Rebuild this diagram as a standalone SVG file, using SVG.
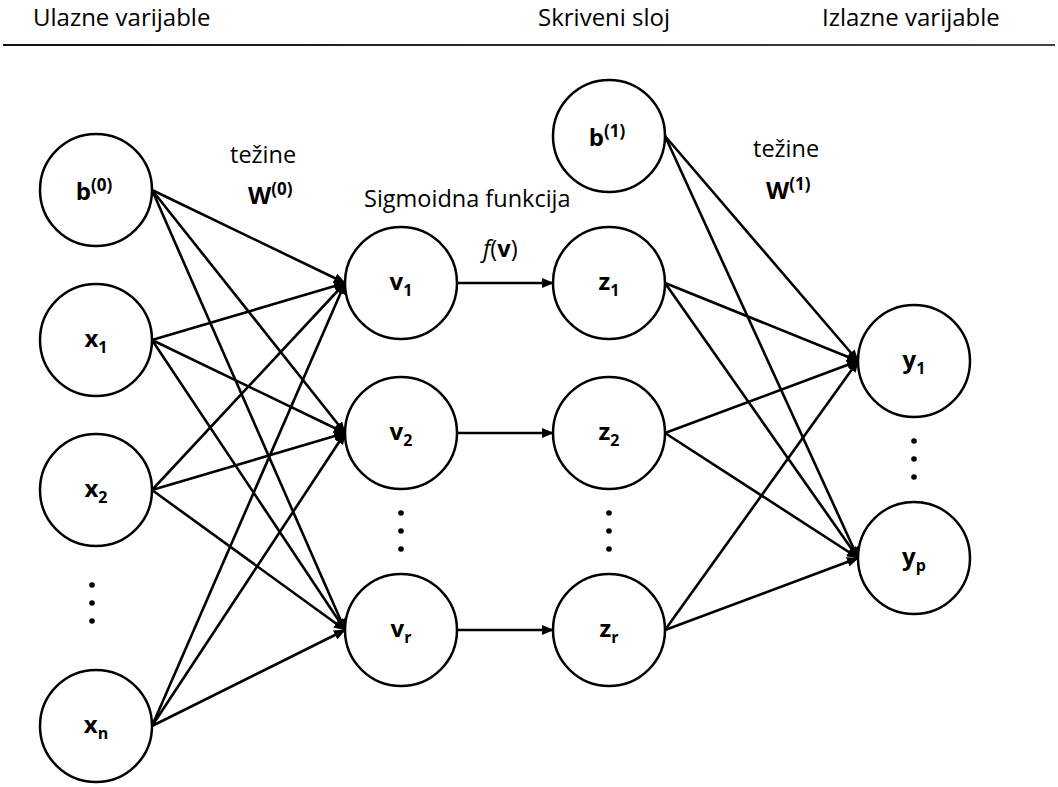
<svg xmlns="http://www.w3.org/2000/svg" width="1058" height="787" viewBox="0 0 1058 787">
<style>
.hdr{font-family:"Open Sans","Liberation Sans",sans-serif;font-size:24px;fill:#000}
.lbl{font-family:"Open Sans","Liberation Sans",sans-serif;font-size:23.5px;fill:#000}
.nl{font-family:"Open Sans","Liberation Sans",sans-serif;font-size:24px;font-weight:bold;fill:#000}
.sub{font-size:16px}
.sup{font-size:17px}
.node circle{fill:#fff;stroke:#000;stroke-width:2.5}
.edges line{stroke:#000;stroke-width:2.6;marker-end:url(#ah)}
.dot{fill:#000}
</style>
<defs>
<marker id="ah" markerUnits="userSpaceOnUse" markerWidth="12" markerHeight="10" refX="11" refY="5" orient="auto">
<path d="M0,0 L12,5 L0,10 z" fill="#000"/>
</marker>
<linearGradient id="rule" x1="0" y1="0" x2="1" y2="0">
<stop offset="0" stop-color="#111"/><stop offset="1" stop-color="#444"/>
</linearGradient>
</defs>
<rect width="1058" height="787" fill="#fff"/>
<text class="hdr" x="33" y="26">Ulazne varijable</text>
<text class="hdr" x="538" y="26">Skriveni sloj</text>
<text class="hdr" x="822" y="26">Izlazne varijable</text>
<rect x="3" y="44" width="1052" height="2" fill="url(#rule)"/>

<g class="edges">
<line x1="152" y1="190" x2="345" y2="283"/>
<line x1="152" y1="190" x2="345" y2="433"/>
<line x1="152" y1="190" x2="345" y2="630"/>
<line x1="152" y1="340" x2="345" y2="283"/>
<line x1="152" y1="340" x2="345" y2="433"/>
<line x1="152" y1="340" x2="345" y2="630"/>
<line x1="152" y1="490" x2="345" y2="283"/>
<line x1="152" y1="490" x2="345" y2="433"/>
<line x1="152" y1="490" x2="345" y2="630"/>
<line x1="152" y1="726" x2="345" y2="283"/>
<line x1="152" y1="726" x2="345" y2="433"/>
<line x1="152" y1="726" x2="345" y2="630"/>
<line x1="457" y1="283" x2="553" y2="283"/>
<line x1="457" y1="433" x2="553" y2="433"/>
<line x1="457" y1="630" x2="553" y2="630"/>
<line x1="665" y1="136" x2="858" y2="361"/>
<line x1="665" y1="136" x2="858" y2="558"/>
<line x1="665" y1="283" x2="858" y2="361"/>
<line x1="665" y1="283" x2="858" y2="558"/>
<line x1="665" y1="433" x2="858" y2="361"/>
<line x1="665" y1="433" x2="858" y2="558"/>
<line x1="665" y1="630" x2="858" y2="361"/>
<line x1="665" y1="630" x2="858" y2="558"/>
</g>

<g id="b0" class="node"><circle cx="96" cy="190" r="56"/><text class="nl" x="94" y="200" text-anchor="middle">b<tspan class="sup" dy="-9">(0)</tspan></text></g>
<g id="x1" class="node"><circle cx="96" cy="340" r="56"/><text class="nl" x="96" y="347" text-anchor="middle">x<tspan class="sub" dy="6">1</tspan></text></g>
<g id="x2" class="node"><circle cx="96" cy="490" r="56"/><text class="nl" x="96" y="497" text-anchor="middle">x<tspan class="sub" dy="6">2</tspan></text></g>
<g id="xn" class="node"><circle cx="96" cy="726" r="56"/><text class="nl" x="96" y="733" text-anchor="middle">x<tspan class="sub" dy="6">n</tspan></text></g>
<g id="v1" class="node"><circle cx="401" cy="283" r="56"/><text class="nl" x="401" y="290" text-anchor="middle">v<tspan class="sub" dy="6">1</tspan></text></g>
<g id="v2" class="node"><circle cx="401" cy="433" r="56"/><text class="nl" x="401" y="440" text-anchor="middle">v<tspan class="sub" dy="6">2</tspan></text></g>
<g id="vr" class="node"><circle cx="401" cy="630" r="56"/><text class="nl" x="401" y="637" text-anchor="middle">v<tspan class="sub" dy="6">r</tspan></text></g>
<g id="b1" class="node"><circle cx="609" cy="136" r="56"/><text class="nl" x="607" y="146" text-anchor="middle">b<tspan class="sup" dy="-9">(1)</tspan></text></g>
<g id="z1" class="node"><circle cx="609" cy="283" r="56"/><text class="nl" x="609" y="290" text-anchor="middle">z<tspan class="sub" dy="6">1</tspan></text></g>
<g id="z2" class="node"><circle cx="609" cy="433" r="56"/><text class="nl" x="609" y="440" text-anchor="middle">z<tspan class="sub" dy="6">2</tspan></text></g>
<g id="zr" class="node"><circle cx="609" cy="630" r="56"/><text class="nl" x="609" y="637" text-anchor="middle">z<tspan class="sub" dy="6">r</tspan></text></g>
<g id="y1" class="node"><circle cx="914" cy="361" r="56"/><text class="nl" x="914" y="368" text-anchor="middle">y<tspan class="sub" dy="6">1</tspan></text></g>
<g id="yp" class="node"><circle cx="914" cy="558" r="56"/><text class="nl" x="914" y="565" text-anchor="middle">y<tspan class="sub" dy="6">p</tspan></text></g>

<g id="dots">
<circle class="dot" cx="92" cy="585" r="2.8"/><circle class="dot" cx="92" cy="603" r="2.8"/><circle class="dot" cx="92" cy="621" r="2.8"/>
<circle class="dot" cx="401" cy="513" r="2.8"/><circle class="dot" cx="401" cy="531" r="2.8"/><circle class="dot" cx="401" cy="549" r="2.8"/>
<circle class="dot" cx="609" cy="513" r="2.8"/><circle class="dot" cx="609" cy="531" r="2.8"/><circle class="dot" cx="609" cy="549" r="2.8"/>
<circle class="dot" cx="914" cy="441" r="2.8"/><circle class="dot" cx="914" cy="459" r="2.8"/><circle class="dot" cx="914" cy="477" r="2.8"/>
</g>

<text class="lbl" x="230" y="163">težine</text>
<text class="nl" x="248" y="204">W<tspan class="sup" dy="-9">(0)</tspan></text>
<text class="lbl" x="753" y="157">težine</text>
<text class="nl" x="766" y="199">W<tspan class="sup" dy="-9">(1)</tspan></text>
<text class="lbl" x="364" y="207">Sigmoidna funkcija</text>
<text class="lbl" x="483" y="257"><tspan font-style="italic">f</tspan>(<tspan font-weight="bold">v</tspan>)</text>
</svg>
